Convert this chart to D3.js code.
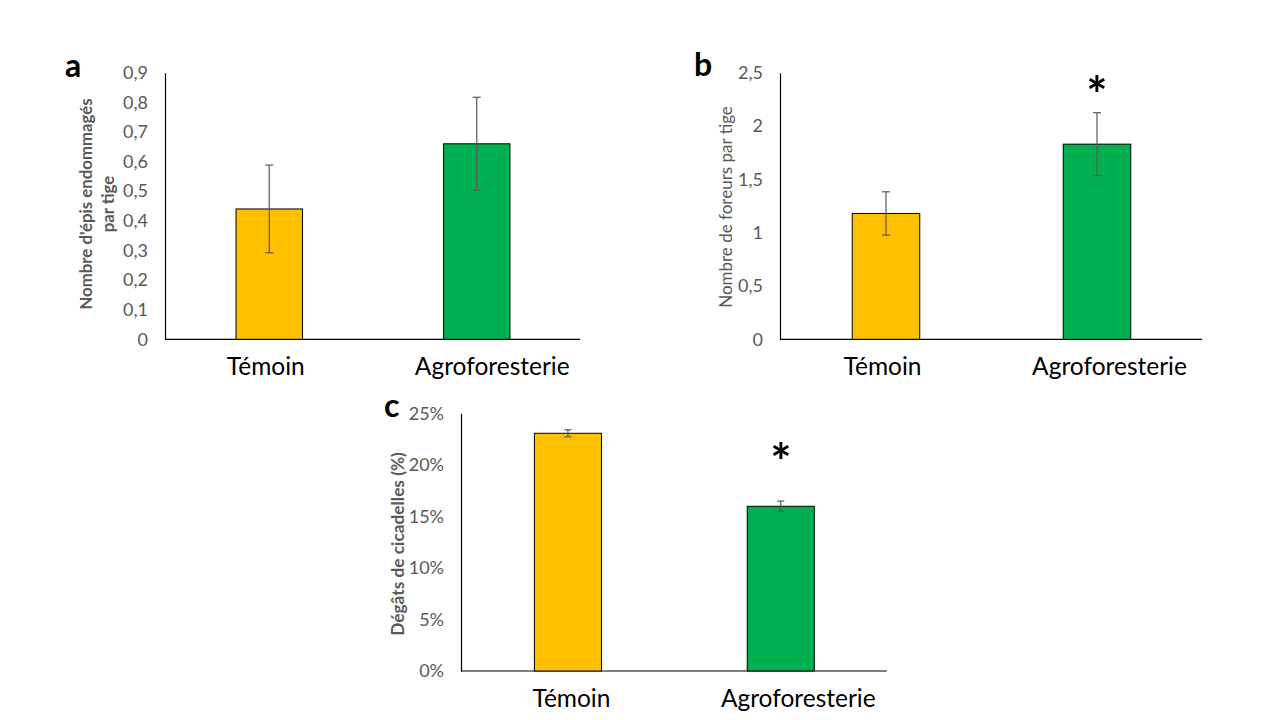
<!DOCTYPE html>
<html><head><meta charset="utf-8">
<script src="https://cdn.jsdelivr.net/npm/d3@7"></script>
<style>body{margin:0;background:#fff}svg{display:block}</style>
</head><body>
<svg id="chart" width="1280" height="720"></svg>
<script>
const categories = ["Témoin", "Agroforesterie"];
const colors = ["#FFC000", "#00B050"];

const episValues = [0.44, 0.66];
const episErrors = [0.148, 0.157];
const episTicks = [0, 0.1, 0.2, 0.3, 0.4, 0.5, 0.6, 0.7, 0.8, 0.9];

const foreursValues = [1.18, 1.83];
const foreursErrors = [0.203, 0.295];
const foreursTicks = [0, 0.5, 1, 1.5, 2, 2.5];
const foreursStars = [null, 2.4];

const cicadellesValues = [0.2306, 0.1598];
const cicadellesErrors = [0.0034, 0.005];
const cicadellesTicks = [0, 0.05, 0.10, 0.15, 0.20, 0.25];
const cicadellesStars = [null, 0.2144];

const svg = d3.select("#chart");
const FONT = "Lato, 'Open Sans', sans-serif";

function panel(cfg) {
  const g = svg.append("g");
  const x = d3.scaleBand().domain(categories).range([cfg.left, cfg.right])
    .paddingInner(cfg.pad).paddingOuter(cfg.pad / 2);
  const y = d3.scaleLinear().domain([0, cfg.max]).range([cfg.bottom, cfg.top]);

  // y axis
  const ya = d3.axisLeft(y).tickValues(cfg.ticks).tickSize(0).tickPadding(17).tickFormat(cfg.fmt);
  const yg = g.append("g").attr("transform", `translate(${cfg.left},0)`).call(ya);
  yg.select(".domain").attr("stroke", "#000").attr("stroke-width", 1.2);
  yg.selectAll("text").attr("fill", "#595959").style("font-family", FONT).style("font-size", "18px");

  // x axis line
  g.append("line").attr("x1", cfg.left).attr("x2", cfg.right)
    .attr("y1", y(0)).attr("y2", y(0)).attr("stroke", "#000").attr("stroke-width", 1.2);

  // bars
  g.selectAll("rect.bar").data(cfg.values).join("rect")
    .attr("x", (d, i) => x(categories[i]) + 0.5)
    .attr("y", d => y(d))
    .attr("width", x.bandwidth())
    .attr("height", d => y(0) - y(d))
    .attr("fill", (d, i) => colors[i])
    .attr("stroke", "#000").attr("stroke-width", 1);

  // error bars
  const cap = cfg.cap;
  cfg.values.forEach((v, i) => {
    const cx = x(categories[i]) + x.bandwidth() / 2 + 0.5;
    const e = cfg.errors[i];
    const eg = g.append("g").attr("stroke", "#595959").attr("stroke-width", 1.2);
    eg.append("line").attr("x1", cx).attr("x2", cx).attr("y1", y(v - e)).attr("y2", y(v + e));
    eg.append("line").attr("x1", cx - cap).attr("x2", cx + cap).attr("y1", y(v - e)).attr("y2", y(v - e));
    eg.append("line").attr("x1", cx - cap).attr("x2", cx + cap).attr("y1", y(v + e)).attr("y2", y(v + e));
    if (cfg.stars && cfg.stars[i] != null) {
      g.append("text").attr("x", cx).attr("y", y(cfg.stars[i]) + 30)
        .attr("text-anchor", "middle").style("font-family", FONT)
        .style("font-weight", "bold").style("font-size", "50px").attr("fill", "#000").text("*");
    }
  });

  // category labels
  g.selectAll("text.cat").data(categories).join("text")
    .attr("x", (d, i) => x(d) + x.bandwidth() / 2 + cfg.catDx[i])
    .attr("y", cfg.catY)
    .attr("text-anchor", "middle").style("font-family", FONT).style("font-size", "24.5px")
    .attr("fill", "#000").text(d => d);

  // y title
  const t = g.append("text").attr("transform", `translate(${cfg.titleX},${cfg.titleY}) rotate(-90)`)
    .attr("text-anchor", "middle").attr("fill", "#595959").style("font-family", FONT)
    .style("font-size", cfg.titleSize + "px").style("font-weight", cfg.titleBold ? "bold" : "normal");
  cfg.title.forEach((line, k) => {
    t.append("tspan").attr("x", 0).attr("dy", k === 0 ? (-(cfg.title.length - 1) * 11 + 5) + "px" : "22px").text(line);
  });

  // panel letter
  g.append("text").attr("x", cfg.letterX).attr("y", cfg.letterY)
    .style("font-family", FONT).style("font-weight", "bold").style("font-size", "32px")
    .attr("fill", "#000").text(cfg.letter);
}

panel({
  letter: "a", letterX: 65, letterY: 77,
  left: 165, right: 580, top: 72.7, bottom: 339.3, max: 0.9, pad: 0.68,
  ticks: episTicks, fmt: d => d3.format(".1f")(d).replace(".", ",").replace(/^0,0$/, "0"),
  values: episValues, errors: episErrors, cap: 4,
  catY: 375, catDx: [-3, 16], title: ["Nombre d'épis endommagés", "par tige"], titleX: 98, titleY: 204,
  titleSize: 16.8, titleBold: true
});

panel({
  letter: "b", letterX: 694, letterY: 76,
  left: 780, right: 1202, top: 72.7, bottom: 339.3, max: 2.5, pad: 0.68,
  ticks: foreursTicks, fmt: d => String(d).replace(".", ","),
  values: foreursValues, errors: foreursErrors, cap: 4, stars: foreursStars,
  catY: 375, catDx: [-3, 13], title: ["Nombre de foreurs par tige"], titleX: 727, titleY: 207,
  titleSize: 17, titleBold: false
});

panel({
  letter: "c", letterX: 384, letterY: 417,
  left: 461, right: 886.7, top: 413.3, bottom: 671, max: 0.25, pad: 0.685,
  ticks: cicadellesTicks, fmt: d => Math.round(d * 100) + "%",
  values: cicadellesValues, errors: cicadellesErrors, cap: 3.5, stars: cicadellesStars,
  catY: 707, catDx: [4, 18], title: ["Dégâts de cicadelles (%)"], titleX: 399, titleY: 544,
  titleSize: 17.3, titleBold: true
});
</script>
</body></html>
